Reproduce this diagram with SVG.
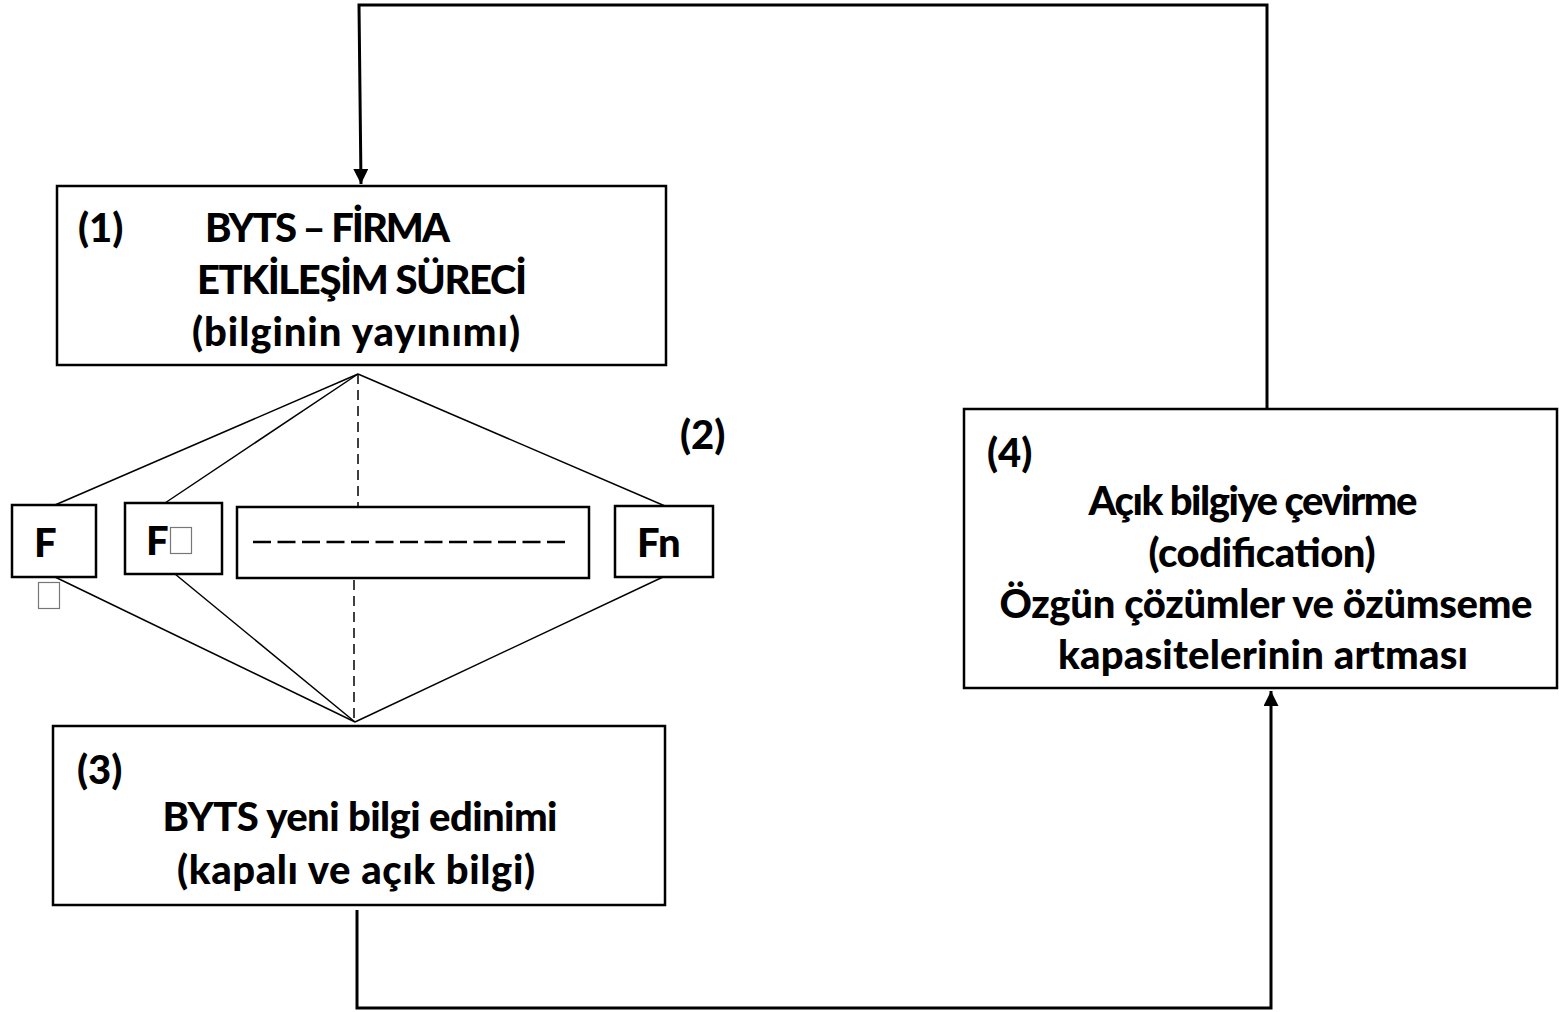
<svg xmlns="http://www.w3.org/2000/svg" width="1559" height="1012" viewBox="0 0 1559 1012">
<style>
.box{fill:#fff;stroke:#000;stroke-width:2.5}
.t{font-family:Lato,"Open Sans",sans-serif;font-weight:900;font-size:40px;fill:#000}
.c{text-anchor:middle}
.loop{fill:none;stroke:#000;stroke-width:3}
.fan{fill:none;stroke:#000;stroke-width:1.5}
.dash{fill:none;stroke:#000;stroke-width:1.5;stroke-dasharray:10 6}
.tofu{fill:none;stroke:#777;stroke-width:1.2}
</style>
<defs>
<marker id="ah" viewBox="0 0 10 10" refX="10" refY="5" markerWidth="5" markerHeight="5" markerUnits="strokeWidth" orient="auto">
<path d="M0,0 L10,5 L0,10 z" fill="#000"/>
</marker>
</defs>
<g id="connectors">
<polyline class="loop" points="1267,408 1267,5 359,5 361,184" marker-end="url(#ah)"/>
<polyline class="loop" points="357,910 357,1008 1271,1008 1271,691" marker-end="url(#ah)"/>
<line class="fan" x1="358" y1="374" x2="55" y2="505"/>
<line class="fan" x1="358" y1="374" x2="165" y2="503"/>
<line class="fan" x1="358" y1="374" x2="665" y2="506"/>
<line class="dash" x1="358" y1="374" x2="358" y2="507"/>
<line class="fan" x1="55" y1="577" x2="355" y2="722"/>
<line class="fan" x1="175" y1="574" x2="355" y2="722"/>
<line class="fan" x1="663" y1="577" x2="355" y2="722"/>
<line class="dash" x1="354" y1="580" x2="354" y2="722"/>
</g>
<g id="node1">
<rect class="box" x="57" y="186" width="609" height="179"/>
<text class="t" x="78" y="242">(1)</text>
<text class="t" x="205" y="242" textLength="245">BYTS – FİRMA</text>
<text class="t" x="197" y="294" textLength="330">ETKİLEŞİM SÜRECİ</text>
<text class="t" x="192" y="346" textLength="328">(bilginin yayınımı)</text>
</g>
<g id="label2">
<text class="t" x="680" y="449">(2)</text>
</g>
<g id="nodeF1">
<rect class="box" x="12" y="505" width="84" height="72"/>
<text class="t" x="34" y="557">F</text>
<rect class="tofu" x="38.5" y="582.5" width="21" height="26"/>
</g>
<g id="nodeF2">
<rect class="box" x="125" y="503" width="97" height="71"/>
<text class="t" x="146" y="555">F</text>
<rect class="tofu" x="170.5" y="527.5" width="21" height="26"/>
</g>
<g id="nodeMid">
<rect class="box" x="237" y="507" width="352" height="71"/>
<line x1="253" y1="542" x2="566" y2="542" stroke="#000" stroke-width="2.5" stroke-dasharray="18 6.5"/>
</g>
<g id="nodeFn">
<rect class="box" x="615" y="506" width="98" height="71"/>
<text class="t" x="637" y="557">Fn</text>
</g>
<g id="node3">
<rect class="box" x="53" y="726" width="612" height="179"/>
<text class="t" x="77" y="784">(3)</text>
<text class="t c" x="360" y="831" textLength="395">BYTS yeni bilgi edinimi</text>
<text class="t c" x="356" y="884" textLength="358">(kapalı ve açık bilgi)</text>
</g>
<g id="node4">
<rect class="box" x="964" y="409" width="593" height="279"/>
<text class="t" x="987" y="467">(4)</text>
<text class="t c" x="1253" y="515" textLength="329">Açık bilgiye çevirme</text>
<text class="t c" x="1262" y="567" textLength="227">(codification)</text>
<text class="t c" x="1266" y="618" textLength="533">Özgün çözümler ve özümseme</text>
<text class="t c" x="1263" y="669" textLength="410">kapasitelerinin artması</text>
</g>
</svg>
